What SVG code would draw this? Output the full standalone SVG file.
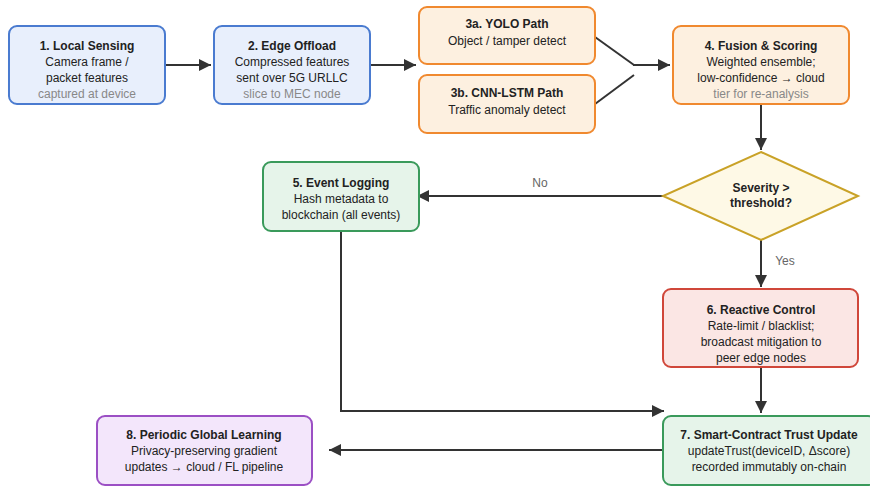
<svg xmlns="http://www.w3.org/2000/svg" width="870" height="487" viewBox="0 0 870 487">
<defs>
<marker id="ah" viewBox="0 0 10 10" refX="10" refY="5" markerWidth="6" markerHeight="6" markerUnits="userSpaceOnUse" orient="auto"><path d="M0,0 L10,5 L0,10 z" fill="#333"/></marker>
<marker id="a" viewBox="0 0 10 10" refX="10" refY="5" markerWidth="12" markerHeight="12" markerUnits="userSpaceOnUse" orient="auto"><path d="M0,0 L10,5 L0,10 z" fill="#333"/></marker>
<style>
text{font-family:"Liberation Sans",Arial,sans-serif;font-size:12px;fill:#222;text-anchor:middle}
.t{font-weight:bold}
.g{fill:#888}
.lbl{fill:#666}
.blue{fill:#e8effc;stroke:#4a7bd0;stroke-width:2}
.orange{fill:#fdf0e0;stroke:#f0892f;stroke-width:2}
.green{fill:#e6f4ea;stroke:#3a9a5b;stroke-width:2}
.red{fill:#fbe6e4;stroke:#d0473a;stroke-width:2}
.purple{fill:#f3e6fb;stroke:#9b4fc4;stroke-width:2}
.yellow{fill:#fef9e6;stroke:#c9a227;stroke-width:2}
.c{fill:none;stroke:#333;stroke-width:2}
</style>
</defs>
<g id="connectors">
<path class="c" d="M165,65 H211" marker-end="url(#a)"/>
<path class="c" d="M370,65 H416" marker-end="url(#a)"/>
<path class="c" d="M595,37 L634,65"/>
<path class="c" d="M595,104 L634,75"/>
<path class="c" d="M633,65 H670" marker-end="url(#a)"/>
<path class="c" d="M761,104 V150" marker-end="url(#a)"/>
<path class="c" d="M663,196 H417" marker-end="url(#a)"/>
<text class="lbl" x="540" y="187">No</text>
<path class="c" d="M761,240 V287" marker-end="url(#a)"/>
<text class="lbl" x="785" y="265">Yes</text>
<path class="c" d="M761,367 V413" marker-end="url(#a)"/>
<path class="c" d="M341,231 V411 H664" marker-end="url(#a)"/>
<path class="c" d="M663,450 H329" marker-end="url(#a)"/>
</g>
<g id="n1">
<rect class="blue" x="9" y="26" width="156" height="78" rx="8"/>
<text class="t" x="87" y="50">1. Local Sensing</text>
<text x="87" y="66">Camera frame /</text>
<text x="87" y="82">packet features</text>
<text class="g" x="87" y="98">captured at device</text>
</g>
<g id="n2">
<rect class="blue" x="214" y="26" width="156" height="78" rx="8"/>
<text class="t" x="292" y="50">2. Edge Offload</text>
<text x="292" y="66">Compressed features</text>
<text x="292" y="82">sent over 5G URLLC</text>
<text class="g" x="292" y="98">slice to MEC node</text>
</g>
<g id="n3a">
<rect class="orange" x="419" y="7" width="176" height="57" rx="8"/>
<text class="t" x="507" y="28">3a. YOLO Path</text>
<text x="507" y="45">Object / tamper detect</text>
</g>
<g id="n3b">
<rect class="orange" x="419" y="75" width="176" height="58" rx="8"/>
<text class="t" x="507" y="97">3b. CNN-LSTM Path</text>
<text x="507" y="114">Traffic anomaly detect</text>
</g>
<g id="n4">
<rect class="orange" x="673" y="26" width="176" height="78" rx="8"/>
<text class="t" x="761" y="50">4. Fusion &amp; Scoring</text>
<text x="761" y="66">Weighted ensemble;</text>
<text x="761" y="82">low-confidence → cloud</text>
<text class="g" x="761" y="98">tier for re-analysis</text>
</g>
<g id="decision">
<path class="yellow" d="M761,152 L858,196 L761,240 L663,196 Z"/>
<text class="t" x="761" y="192">Severity &gt;</text>
<text class="t" x="761" y="207">threshold?</text>
</g>
<g id="n5">
<rect class="green" x="263" y="162" width="156" height="69" rx="8"/>
<text class="t" x="341" y="187">5. Event Logging</text>
<text x="341" y="203">Hash metadata to</text>
<text x="341" y="219">blockchain (all events)</text>
</g>
<g id="n6">
<rect class="red" x="663" y="289" width="195" height="78" rx="8"/>
<text class="t" x="761" y="314">6. Reactive Control</text>
<text x="761" y="330">Rate-limit / blacklist;</text>
<text x="761" y="346">broadcast mitigation to</text>
<text x="761" y="362">peer edge nodes</text>
</g>
<g id="n7">
<rect class="green" x="663" y="416" width="213" height="69" rx="8"/>
<text class="t" x="769" y="439">7. Smart-Contract Trust Update</text>
<text x="769" y="455">updateTrust(deviceID, Δscore)</text>
<text x="769" y="471">recorded immutably on-chain</text>
</g>
<g id="n8">
<rect class="purple" x="97" y="416" width="215" height="69" rx="8"/>
<text class="t" x="204" y="439">8. Periodic Global Learning</text>
<text x="204" y="455">Privacy-preserving gradient</text>
<text x="204" y="471">updates → cloud / FL pipeline</text>
</g>
</svg>
